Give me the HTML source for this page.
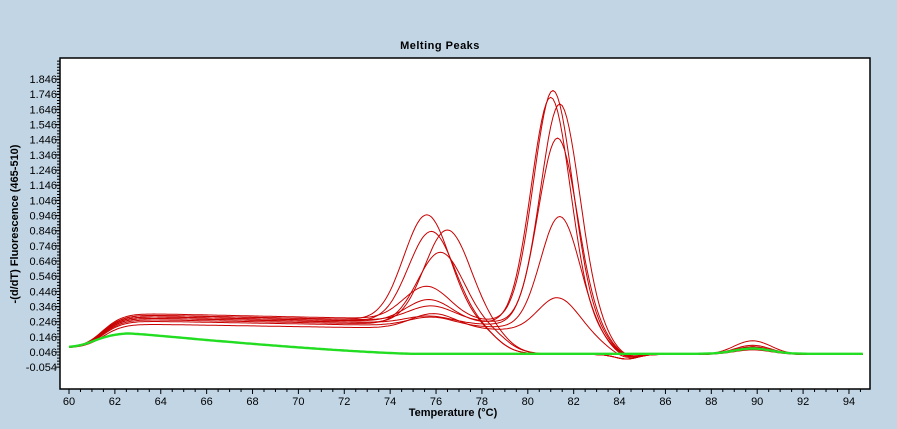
<!DOCTYPE html>
<html><head><meta charset="utf-8"><style>
html,body{margin:0;padding:0;background:#c1d5e5;width:897px;height:429px;overflow:hidden}
svg{display:block}
text{font-family:"Liberation Sans",sans-serif}
</style></head><body>
<svg id="s" width="897" height="429" xmlns="http://www.w3.org/2000/svg">
<rect x="60" y="58" width="810" height="331" fill="#fff" stroke="#000" stroke-width="1.5"/>
<text x="440" y="49" font-size="11" font-weight="bold" text-anchor="middle" letter-spacing="0.5">Melting Peaks</text>
<text x="453" y="416" font-size="11" font-weight="bold" text-anchor="middle">Temperature (°C)</text>
<text transform="translate(18,224) rotate(-90)" font-size="11" font-weight="bold" text-anchor="middle">-(d/dT) Fluorescence (465-510)</text>
<g id="ax"></g>
<g id="cv" fill="none" stroke-width="1"></g>
</svg>
<script>
var X=function(t){return 69+(t-60)*22.94};
var Y=function(v){return 352-(v-0.046)*151.7};
var ns="http://www.w3.org/2000/svg",ax=document.getElementById('ax'),cv=document.getElementById('cv');
function el(n,a,p){var e=document.createElementNS(ns,n);for(var k in a)e.setAttribute(k,a[k]);p.appendChild(e);return e;}
var h='';
for(var t=60;t<=94;t+=2){var x=X(t);h+='M'+x+' 389v5';el('text',{x:x,y:405,'font-size':11,'text-anchor':'middle'},ax).textContent=t;}
for(var t=60;t<=94.8;t+=0.5){h+='M'+X(t)+' 389v3';}
for(var i=0;i<=19;i++){var v=-0.054+i*0.1,y=Y(v);h+='M55 '+y+'h5';el('text',{x:57,y:y+4,'font-size':11,'text-anchor':'end'},ax).textContent=v.toFixed(3);}
for(var y=Y(-0.054);y>=60;y-=3.03)h+='M57 '+y+'h3';
el('path',{d:h,stroke:'#000','stroke-width':1,fill:'none'},ax);
function sig(z){return 1/(1+Math.exp(-z));}
function g(t,c,s){return Math.exp(-(t-c)*(t-c)/(2*s*s));}
var R=[[0.26,0.70,75.6,0,81.2,78.6,0.04],[0.24,0.62,76.5,0,81.2,79.0,0.05],[0.25,0.60,75.8,0,81.2,78.6,0.03],[0.23,0.48,76.2,0,81.2,79.0,0.04],
[0.27,0.22,75.6,1.53,81.1,83.4,0.09],[0.25,0.15,75.7,1.5,81.0,83.4,0.06],[0.26,0.10,75.8,1.45,81.4,83.5,0.05],[0.24,0.05,75.7,1.24,81.3,83.5,0.04],
[0.22,0.06,75.8,0.74,81.4,83.3,0.05],[0.20,0.10,75.9,0.22,81.3,83.2,0.04]];
R.forEach(function(r){var d='';for(var t=60;t<=94.6;t+=0.1){
var b=r[0]*sig((t-61.4)/0.45)*(1-0.012*Math.max(0,t-63))*sig((r[5]-t)/0.45);
var v=0.03+0.04*(1-sig((t-61)/0.4))+b+r[1]*g(t,r[2],1.0)+r[3]*g(t,r[4],0.85)-0.03*g(t,84.3,0.5)+r[6]*g(t,89.8,0.8);
d+=(d?'L':'M')+X(t).toFixed(1)+' '+Y(v).toFixed(1);}
el('path',{d:d,stroke:'#c80000'},cv);});
for(var k=0;k<3;k++){var d='';for(var t=60;t<=94.6;t+=0.1){
var dec=t<62.5?1:Math.pow(Math.max(0,1-(t-62.5)/12.5),1.3);
var v=0.03+0.004*k+0.14*sig((t-61)/0.5)*dec+0.04*(1-sig((t-60.5)/0.5))+0.035*g(t,89.8,0.8);
d+=(d?'L':'M')+X(t).toFixed(1)+' '+Y(v).toFixed(1);}
el('path',{d:d,stroke:'#22dd22','stroke-width':1.2},cv);}
</script>
</body></html>
